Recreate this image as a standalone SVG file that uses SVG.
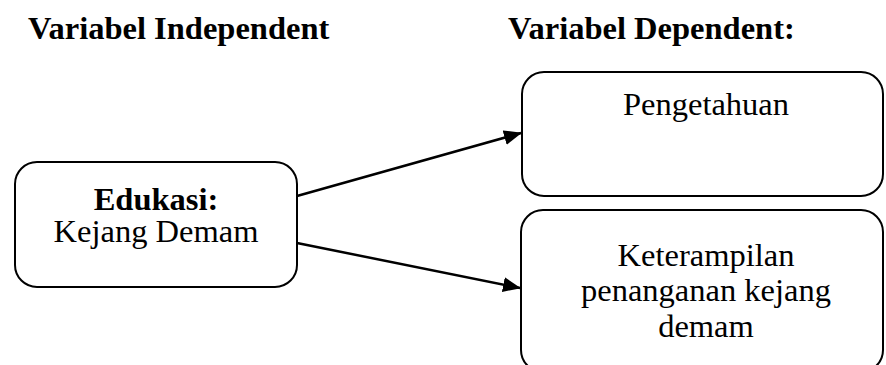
<svg xmlns="http://www.w3.org/2000/svg" width="886" height="365" viewBox="0 0 886 365">
<style>
.box{fill:#fff;stroke:#000;stroke-width:2}
.t{font-family:"Liberation Serif","Times New Roman",serif;font-size:32.5px;fill:#000}
.b{font-weight:bold}
.c{stroke:#000;stroke-width:2.5;fill:none}
</style>
<defs>
<marker id="ah" markerWidth="18" markerHeight="15" refX="17" refY="7.5" orient="auto" markerUnits="userSpaceOnUse">
<path d="M0,0 L18,7.5 L0,15 Z" fill="#000"/>
</marker>
</defs>
<rect width="886" height="365" fill="#fff"/>
<g id="title-independent"><text class="t b" x="28" y="39">Variabel Independent</text></g>
<g id="title-dependent"><text class="t b" x="508" y="39">Variabel Dependent:</text></g>
<g id="connectors">
<line class="c" x1="297" y1="196" x2="521" y2="133" marker-end="url(#ah)"/>
<line class="c" x1="297" y1="243" x2="520" y2="288" marker-end="url(#ah)"/>
</g>
<g id="edukasi">
<rect class="box" x="15" y="162" width="282" height="125" rx="22"/>
<text class="t b" x="156" y="210" text-anchor="middle">Edukasi:</text>
<text class="t" x="156" y="242" text-anchor="middle">Kejang Demam</text>
</g>
<g id="pengetahuan">
<rect class="box" x="522" y="72" width="361" height="124" rx="22"/>
<text class="t" x="706" y="115" text-anchor="middle">Pengetahuan</text>
</g>
<g id="keterampilan">
<rect class="box" x="521" y="210" width="362" height="162" rx="22"/>
<text class="t" x="706" y="266" text-anchor="middle">Keterampilan</text>
<text class="t" x="706" y="301" text-anchor="middle">penanganan kejang</text>
<text class="t" x="706" y="337" text-anchor="middle">demam</text>
</g>
</svg>
